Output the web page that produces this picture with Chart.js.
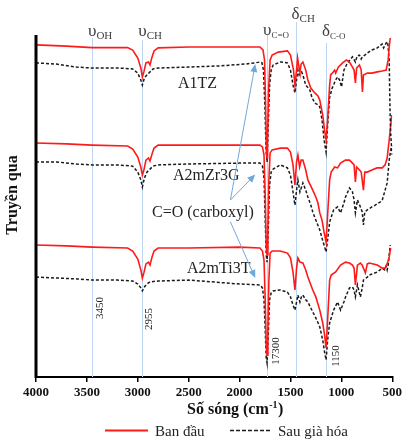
<!DOCTYPE html>
<html>
<head>
<meta charset="utf-8">
<script src="https://cdn.jsdelivr.net/npm/chart.js@4.4.1/dist/chart.umd.min.js"></script>
<style>
  html, body { margin: 0; padding: 0; background: #fff; }
  #ftirChart { display: block; }
</style>
</head>
<body>
<canvas id="ftirChart" width="405" height="440"></canvas>
<script>
'use strict';

// Wavenumber ticks (cm-1)
const xTicks = [4000, 3500, 3000, 2500, 2000, 1500, 1000, 500];

// Characteristic bands
const bandWavenumbers = [3450, 2955, 1730, 1450, 1150];
const bandGreek = ['υ', 'υ', 'υ', 'δ', 'δ'];
const bandSubs = ['OH', 'CH', 'C=O', 'CH', 'C-O'];
const peakLabels = ['3450', '2955', '17300', '1150'];
const peakLabelWaves = [3450, 2955, 1730, 1150];

const sampleNames = ['A1TZ', 'A2mZr3G', 'A2mTi3T'];
const legendLabels = ['Ban đầu', 'Sau già hóa'];

// A1TZ - ban đầu
const a1tzInitWave = [4000, 3700, 3450, 3200, 3100, 3050, 3000, 2970, 2955, 2940, 2920, 2895, 2880, 2860, 2840, 2800, 2500, 2200, 1900, 1800, 1770, 1755, 1745, 1735, 1730, 1725, 1715, 1700, 1680, 1620, 1530, 1500, 1470, 1456, 1440, 1430, 1415, 1407, 1395, 1378, 1350, 1329, 1300, 1261, 1230, 1212, 1183, 1165, 1150, 1135, 1115, 1105, 1080, 1066, 1056, 1030, 988, 950, 920, 891, 875, 862, 850, 822, 805, 793, 783, 745, 700, 647, 598, 560, 540, 530, 520];
const a1tzInitT = [110.7, 110.3, 109.8, 109.8, 109.8, 109, 106.3, 103, 100, 101.7, 104.7, 105, 104, 106.7, 108.7, 109.7, 110, 110, 110, 110, 109, 105.7, 92.3, 74, 73, 79, 95.7, 105.7, 107.3, 108.3, 108.7, 107.3, 102.3, 97.3, 102.3, 106.3, 103, 101.7, 104.3, 105, 102.3, 99, 96.3, 94.7, 93.7, 92.3, 87.3, 82.3, 79, 85.7, 97.3, 100.7, 101.7, 102.3, 101.3, 103.3, 104.7, 105.7, 105, 103.3, 102.3, 98, 103, 104, 102.3, 95, 100.7, 101.3, 101.3, 101.7, 102, 102.3, 105.7, 110, 113];

// A1TZ - sau già hóa
const a1tzAgedWave = [4000, 3800, 3600, 3450, 3200, 3050, 3000, 2970, 2955, 2935, 2910, 2880, 2850, 2800, 2500, 2200, 1950, 1850, 1800, 1780, 1765, 1750, 1740, 1730, 1720, 1705, 1690, 1670, 1600, 1530, 1500, 1475, 1456, 1440, 1427, 1415, 1407, 1390, 1378, 1350, 1310, 1290, 1261, 1230, 1212, 1190, 1170, 1150, 1135, 1115, 1090, 1056, 1037, 1017, 998, 975, 940, 891, 862, 845, 822, 805, 793, 770, 745, 700, 647, 600, 585, 560, 545, 530, 522, 515, 505, 500];
const a1tzAgedT = [104.7, 104.3, 103.3, 103, 103, 102.7, 101.3, 99, 97.3, 99.7, 100.7, 101.7, 102.7, 103, 103.3, 103.7, 104.3, 104.7, 105, 104.7, 102.3, 89, 75.7, 71.7, 82.3, 97.3, 102.3, 104, 105, 104.7, 102.3, 97.3, 94.7, 99, 102.3, 100.7, 101.3, 101.7, 100.7, 97.3, 95.7, 93.3, 91.3, 90.7, 90, 85.7, 79, 75, 84, 93.3, 96.3, 99, 100, 99, 96.7, 102.3, 104.7, 106.7, 105, 107, 107.3, 106, 106.7, 107.3, 108, 109, 109.7, 111, 109.7, 111.3, 111.7, 105.7, 89, 80.7, 75.7, 74];

// A2mZr3G - ban đầu
const a2mzrInitWave = [4000, 3700, 3450, 3100, 3050, 3000, 2970, 2955, 2940, 2920, 2895, 2880, 2860, 2840, 2800, 2500, 2000, 1800, 1775, 1760, 1748, 1738, 1730, 1722, 1712, 1700, 1680, 1600, 1530, 1500, 1475, 1456, 1440, 1427, 1410, 1395, 1378, 1350, 1329, 1281, 1251, 1230, 1212, 1190, 1170, 1150, 1135, 1115, 1100, 1066, 1037, 1008, 960, 920, 891, 875, 862, 850, 822, 805, 783, 770, 745, 700, 650, 598, 570, 550, 530, 515, 505];
const a2mzrInitT = [78, 77.7, 77.3, 77, 76, 73.3, 70, 67.3, 69, 72.3, 73, 72, 74.3, 76.3, 77.3, 77.3, 77.3, 77.3, 76.7, 74, 60.7, 44, 40.7, 49, 65.7, 74.7, 75.7, 76.3, 76.3, 75, 70.7, 64, 71.7, 74, 70, 72.3, 72.3, 69, 65.7, 62.3, 60, 58, 54.7, 52.3, 48.3, 45, 54, 65.7, 68.3, 70, 69.7, 71.3, 72.3, 72.3, 71.3, 70.7, 65, 70, 69, 68.3, 62.3, 68.3, 68.3, 69, 69.7, 69.7, 70.7, 73, 79, 84, 87.3];

// A2mZr3G - sau già hóa
const a2mzrAgedWave = [4000, 3800, 3600, 3450, 3200, 3050, 3000, 2970, 2955, 2935, 2910, 2880, 2850, 2800, 2500, 2000, 1800, 1775, 1760, 1748, 1738, 1730, 1720, 1705, 1690, 1670, 1600, 1530, 1500, 1475, 1456, 1440, 1427, 1407, 1378, 1350, 1329, 1300, 1281, 1251, 1212, 1190, 1170, 1150, 1135, 1115, 1076, 1037, 1008, 975, 959, 920, 891, 875, 862, 842, 813, 795, 783, 770, 745, 700, 667, 620, 598, 570, 550, 530, 515, 500];
const a2mzrAgedT = [71.7, 71.7, 71, 70.7, 70.7, 70.3, 68.3, 65.7, 63.3, 66.3, 68.3, 69.3, 70.3, 70.7, 71, 71.3, 71.3, 70.3, 66.3, 52.3, 40.7, 38.3, 47.3, 64, 68.3, 69.3, 70.7, 69.7, 67.3, 61.7, 57.3, 62.3, 65.7, 61.7, 64.7, 62.3, 60, 57.3, 55, 52.3, 49, 46.3, 44, 41.7, 45.7, 51.7, 55.7, 56.7, 54.7, 58, 60, 63, 61.7, 59, 54.7, 59, 56.7, 55, 50.7, 55, 55.7, 56.7, 57.3, 58.3, 59, 62.3, 64.7, 72.3, 75.7, 77.3];

// A2mTi3T - ban đầu
const a2mtiInitWave = [4000, 3700, 3450, 3100, 3050, 3000, 2970, 2955, 2940, 2920, 2895, 2880, 2860, 2840, 2800, 2500, 2000, 1800, 1775, 1760, 1748, 1738, 1730, 1722, 1712, 1700, 1680, 1600, 1530, 1500, 1475, 1456, 1440, 1427, 1407, 1378, 1350, 1329, 1281, 1251, 1212, 1183, 1165, 1150, 1135, 1115, 1100, 1056, 1008, 959, 920, 891, 875, 862, 842, 813, 795, 764, 745, 725, 647, 598, 570, 550, 530, 515];
const a2mtiInitT = [44, 43.7, 43.3, 43, 42, 39.3, 35.7, 33, 34.7, 37.7, 38.3, 37.3, 40, 42, 43, 43, 43.3, 43, 42, 39, 25.7, 10.7, 7.3, 15.7, 32.3, 41.3, 42, 42, 41.3, 39.7, 35, 29, 36.3, 39.7, 38.3, 38, 35.7, 33.3, 29, 26.7, 22.3, 18, 14, 9.7, 19, 32.3, 34, 35, 37.3, 38.3, 38, 37.3, 36.3, 30.7, 37.3, 38, 37.3, 34.7, 37.7, 38, 37.3, 36.3, 36.3, 37.7, 40, 43];

// A2mTi3T - sau già hóa
const a2mtiAgedWave = [4000, 3800, 3600, 3450, 3200, 3050, 3000, 2970, 2955, 2935, 2910, 2880, 2800, 2500, 2000, 1800, 1775, 1760, 1748, 1738, 1730, 1720, 1705, 1690, 1670, 1600, 1530, 1500, 1475, 1456, 1440, 1427, 1407, 1390, 1378, 1350, 1329, 1300, 1281, 1251, 1212, 1183, 1165, 1150, 1135, 1115, 1076, 1037, 1008, 975, 959, 920, 891, 875, 862, 842, 813, 795, 783, 745, 725, 647, 598, 575, 560, 550, 540, 530, 520];
const a2mtiAgedT = [33.3, 33, 32.7, 32.3, 32.3, 32, 31, 29.7, 28.7, 30, 31, 31.7, 32, 32.3, 31, 30.7, 29.7, 25.7, 15.7, 6.3, 4.7, 12.3, 25.7, 28, 28.7, 29, 28.3, 26.7, 24, 22.3, 25, 27.3, 25, 27, 27.3, 25.7, 25, 23, 21.7, 19.7, 16.7, 12.3, 8.3, 5.7, 12.3, 18, 22.3, 25, 22.3, 25, 26.7, 29.7, 30, 29, 26.7, 30.7, 26.7, 29.7, 32.3, 33.3, 34, 35, 36.3, 35.7, 37, 35.7, 37.3, 40.7, 44];

const FONT = "'Liberation Serif', 'Times New Roman', serif";
const RED = '#ff1a1a';
const BLACK = '#1a1a1a';
const BLUE = '#6fa8dc';

function toPoints(xs, ys) {
    return xs.map((x, i) => ({ x: x, y: ys[i] }));
}

function initialSet(xs, ys) {
    return {
        label: legendLabels[0],
        data: toPoints(xs, ys),
        borderColor: RED,
        borderWidth: 1.6,
        pointRadius: 0,
        tension: 0,
        fill: false
    };
}

function agedSet(xs, ys) {
    return {
        label: legendLabels[1],
        data: toPoints(xs, ys),
        borderColor: BLACK,
        borderWidth: 1.5,
        borderDash: [3, 2],
        pointRadius: 0,
        tension: 0,
        fill: false
    };
}

function drawArrow(ctx, x1, y1, x2, y2) {
    const ang = Math.atan2(y2 - y1, x2 - x1);
    const len = 8, half = 3.5;
    ctx.beginPath();
    ctx.moveTo(x1, y1);
    ctx.lineTo(x2 - Math.cos(ang) * len * 0.8, y2 - Math.sin(ang) * len * 0.8);
    ctx.stroke();
    ctx.beginPath();
    ctx.moveTo(x2, y2);
    ctx.lineTo(x2 - Math.cos(ang) * len + Math.sin(ang) * half, y2 - Math.sin(ang) * len - Math.cos(ang) * half);
    ctx.lineTo(x2 - Math.cos(ang) * len - Math.sin(ang) * half, y2 - Math.sin(ang) * len + Math.cos(ang) * half);
    ctx.closePath();
    ctx.fill();
}

// Vertical band lines, labels, arrows, titles and legend
const ftirNotes = {
    id: 'ftirNotes',
    beforeDatasetsDraw(chart) {
        const { ctx, chartArea, scales: { x } } = chart;
        const tops = [38, 40, 35, 22, 43];
        ctx.save();
        ctx.strokeStyle = '#bcd5f0';
        ctx.lineWidth = 1;
        bandWavenumbers.forEach((w, i) => {
            const px = Math.round(x.getPixelForValue(w)) + 0.5;
            ctx.beginPath();
            ctx.moveTo(px, tops[i]);
            ctx.lineTo(px, chartArea.bottom);
            ctx.stroke();
        });
        ctx.restore();
    },
    afterDraw(chart) {
        const { ctx, chartArea, scales: { x, y } } = chart;
        ctx.save();

        // left axis line
        ctx.strokeStyle = '#000';
        ctx.lineWidth = 3;
        ctx.beginPath();
        ctx.moveTo(chartArea.left, chartArea.top);
        ctx.lineTo(chartArea.left, chartArea.bottom + 1);
        ctx.stroke();

        ctx.textBaseline = 'alphabetic';
        ctx.textAlign = 'left';

        // band symbols
        const baselines = [36, 36, 35, 19, 36];
        const subSizes = [11, 11, 9, 11, 9];
        ctx.fillStyle = '#404040';
        bandWavenumbers.forEach((w, i) => {
            let px = x.getPixelForValue(w) - 4;
            ctx.font = '17px ' + FONT;
            ctx.fillText(bandGreek[i], px, baselines[i]);
            px += ctx.measureText(bandGreek[i]).width;
            ctx.font = subSizes[i] + 'px ' + FONT;
            ctx.fillText(bandSubs[i], px, baselines[i] + 3);
        });

        // peak positions, written vertically
        const centers = [308, 319, 351, 356];
        const offs = [8, 7, 9, 10];
        ctx.fillStyle = '#222';
        ctx.font = '11px ' + FONT;
        ctx.textAlign = 'center';
        ctx.textBaseline = 'middle';
        peakLabels.forEach((t, i) => {
            ctx.save();
            ctx.translate(x.getPixelForValue(peakLabelWaves[i]) + offs[i], centers[i]);
            ctx.rotate(-Math.PI / 2);
            ctx.fillText(t, 0, 0);
            ctx.restore();
        });

        // sample names
        ctx.textAlign = 'left';
        ctx.textBaseline = 'alphabetic';
        ctx.fillStyle = '#222';
        ctx.font = '16px ' + FONT;
        ctx.fillText(sampleNames[0], 178, 88);
        ctx.fillText(sampleNames[1], 173, 180);
        ctx.fillText(sampleNames[2], 187, 273);
        ctx.fillText('C=O (carboxyl)', 152, 217);

        // arrows to the carbonyl bands
        ctx.strokeStyle = BLUE;
        ctx.fillStyle = BLUE;
        ctx.lineWidth = 1;
        drawArrow(ctx, x.getPixelForValue(2090), y.getPixelForValue(59), x.getPixelForValue(1846), y.getPixelForValue(104.3));
        drawArrow(ctx, x.getPixelForValue(2090), y.getPixelForValue(59), x.getPixelForValue(1846), y.getPixelForValue(67.5));
        drawArrow(ctx, x.getPixelForValue(2090), y.getPixelForValue(51.7), x.getPixelForValue(1846), y.getPixelForValue(33));

        // x axis title with superscript
        ctx.fillStyle = '#111';
        ctx.font = 'bold 16px ' + FONT;
        let tx = 187;
        const part1 = 'Số sóng (cm';
        ctx.fillText(part1, tx, 414);
        tx += ctx.measureText(part1).width;
        ctx.font = 'bold 10px ' + FONT;
        ctx.fillText('-1', tx + 0.5, 408);
        tx += ctx.measureText('-1').width + 1;
        ctx.font = 'bold 16px ' + FONT;
        ctx.fillText(')', tx, 414);

        // y axis title
        ctx.save();
        ctx.translate(17, 195);
        ctx.rotate(-Math.PI / 2);
        ctx.textAlign = 'center';
        ctx.font = 'bold 16px ' + FONT;
        ctx.fillText('Truyền qua', 0, 0);
        ctx.restore();

        // legend
        ctx.lineWidth = 2;
        ctx.strokeStyle = RED;
        ctx.beginPath();
        ctx.moveTo(105, 430.5);
        ctx.lineTo(148, 430.5);
        ctx.stroke();
        ctx.strokeStyle = BLACK;
        ctx.lineWidth = 1.6;
        ctx.setLineDash([4, 2]);
        ctx.beginPath();
        ctx.moveTo(230, 430.5);
        ctx.lineTo(272, 430.5);
        ctx.stroke();
        ctx.setLineDash([]);
        ctx.fillStyle = '#222';
        ctx.font = '15px ' + FONT;
        ctx.fillText(legendLabels[0], 155, 436);
        ctx.fillText(legendLabels[1], 278, 436);

        ctx.restore();
    }
};

const ftirCtx = document.getElementById('ftirChart').getContext('2d');
new Chart(ftirCtx, {
    type: 'line',
    data: {
        datasets: [
            initialSet(a1tzInitWave, a1tzInitT),
            agedSet(a1tzAgedWave, a1tzAgedT),
            initialSet(a2mzrInitWave, a2mzrInitT),
            agedSet(a2mzrAgedWave, a2mzrAgedT),
            initialSet(a2mtiInitWave, a2mtiInitT),
            agedSet(a2mtiAgedWave, a2mtiAgedT)
        ]
    },
    options: {
        responsive: false,
        animation: false,
        layout: {
            padding: { left: 36, right: 11, top: 35, bottom: 0 }
        },
        scales: {
            x: {
                type: 'linear',
                reverse: true,
                min: 500,
                max: 4000,
                afterBuildTicks: function(scale) {
                    scale.ticks = xTicks.map(v => ({ value: v }));
                },
                afterFit: function(scale) {
                    scale.height = 63;
                },
                ticks: {
                    autoSkip: false,
                    maxRotation: 0,
                    padding: 3,
                    color: '#111',
                    font: { family: FONT, size: 13, weight: 'bold' },
                    callback: function(value) {
                        return String(value);
                    }
                },
                grid: {
                    display: true,
                    drawOnChartArea: false,
                    drawTicks: true,
                    tickLength: 5,
                    color: '#000',
                    lineWidth: 1.5
                },
                border: { display: true, color: '#000', width: 2 }
            },
            y: {
                display: false,
                min: 0,
                max: 114
            }
        },
        plugins: {
            legend: { display: false },
            tooltip: { enabled: false }
        }
    },
    plugins: [ftirNotes]
});
</script>
</body>
</html>
